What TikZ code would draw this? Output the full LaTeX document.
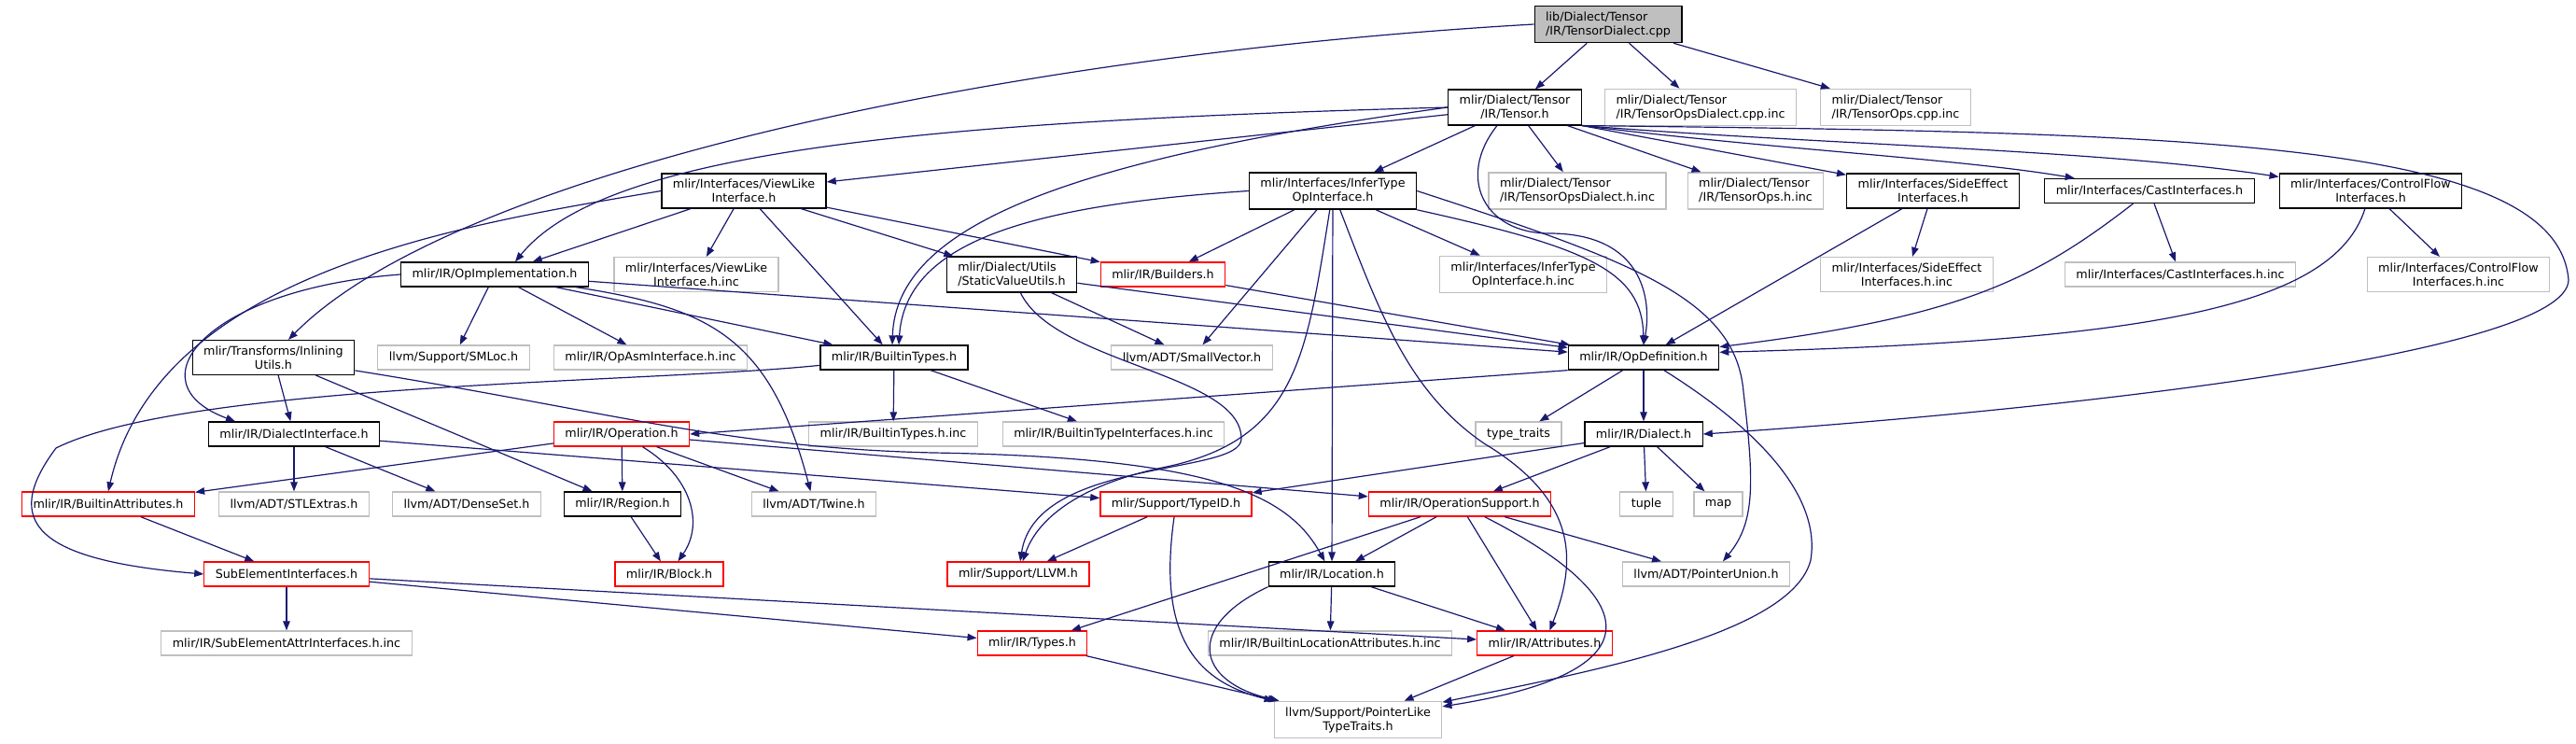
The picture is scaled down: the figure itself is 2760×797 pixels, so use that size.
\documentclass[tikz,border=0pt]{standalone}
\usepackage{fontspec}
\setmainfont{DejaVu Sans}
\usepackage{tikz}
\usetikzlibrary{arrows.meta,calc}
\definecolor{edgeblue}{RGB}{25,25,112}
\definecolor{boxgrey}{RGB}{191,191,191}

\begin{document}
\begin{tikzpicture}[x=1pt,y=-1pt,
    file/.style={draw, rectangle, line width=1.3pt, inner xsep=12pt, inner ysep=6pt,
      minimum height=26pt, align=center, font=\fontsize{12.7}{15}\selectfont},
    hdr/.style={file, draw=black},
    sys/.style={file, draw=boxgrey},
    trunc/.style={file, draw=red},
    root/.style={file, draw=black, fill=boxgrey},
    dep/.style={draw=edgeblue, line width=1.2pt, -{Triangle[length=10pt,width=7.5pt]}}]
  \useasboundingbox (0,0) rectangle (2760,797);

  % row 0 and 1
  \node[root, align=left] (cpp) at (1723,26) {lib/Dialect/Tensor\\/IR/TensorDialect.cpp};
  \node[hdr] (tensor) at (1623,115) {mlir/Dialect/Tensor\\/IR/Tensor.h};
  \node[sys, align=left] (opsdialectcpp) at (1822,115) {mlir/Dialect/Tensor\\/IR/TensorOpsDialect.cpp.inc};
  \node[sys, align=left] (opscpp) at (2031,115) {mlir/Dialect/Tensor\\/IR/TensorOps.cpp.inc};

  % row 2
  \node[hdr] (viewlike) at (797,204.5) {mlir/Interfaces/ViewLike\\Interface.h};
  \node[hdr] (infertype) at (1428,204.5) {mlir/Interfaces/InferType\\OpInterface.h};
  \node[sys, align=left] (opsdialecth) at (1690,204.5) {mlir/Dialect/Tensor\\/IR/TensorOpsDialect.h.inc};
  \node[sys, align=left] (opsh) at (1881,204.5) {mlir/Dialect/Tensor\\/IR/TensorOps.h.inc};
  \node[hdr] (sideeffect) at (2071,204.5) {mlir/Interfaces/SideEffect\\Interfaces.h};
  \node[hdr] (cast) at (2303,204.5) {mlir/Interfaces/CastInterfaces.h};
  \node[hdr] (controlflow) at (2540,204.5) {mlir/Interfaces/ControlFlow\\Interfaces.h};

  % row 3
  \node[hdr] (opimpl) at (530,294) {mlir/IR/OpImplementation.h};
  \node[sys] (viewlikeinc) at (746,294) {mlir/Interfaces/ViewLike\\Interface.h.inc};
  \node[hdr, align=left] (staticvalue) at (1084,294) {mlir/Dialect/Utils\\/StaticValueUtils.h};
  \node[trunc] (builders) at (1246,294) {mlir/IR/Builders.h};
  \node[sys] (infertypeinc) at (1632,294) {mlir/Interfaces/InferType\\OpInterface.h.inc};
  \node[sys] (sideeffectinc) at (2043,294) {mlir/Interfaces/SideEffect\\Interfaces.h.inc};
  \node[sys] (castinc) at (2336,294) {mlir/Interfaces/CastInterfaces.h.inc};
  \node[sys] (controlflowinc) at (2634,294) {mlir/Interfaces/ControlFlow\\Interfaces.h.inc};

  % row 4
  \node[hdr] (inlining) at (293,383) {mlir/Transforms/Inlining\\Utils.h};
  \node[sys] (smloc) at (486,383) {llvm/Support/SMLoc.h};
  \node[sys] (opasm) at (697,383) {mlir/IR/OpAsmInterface.h.inc};
  \node[hdr] (builtintypes) at (958,383) {mlir/IR/BuiltinTypes.h};
  \node[sys] (smallvector) at (1277,383) {llvm/ADT/SmallVector.h};
  \node[hdr] (opdef) at (1761,383) {mlir/IR/OpDefinition.h};

  % row 5
  \node[hdr] (dialectiface) at (315,465) {mlir/IR/DialectInterface.h};
  \node[trunc] (operation) at (666,465) {mlir/IR/Operation.h};
  \node[sys] (builtintypesinc) at (957,465) {mlir/IR/BuiltinTypes.h.inc};
  \node[sys] (builtintypeiface) at (1193,465) {mlir/IR/BuiltinTypeInterfaces.h.inc};
  \node[sys] (typetraits) at (1627,465) {type\_traits};
  \node[hdr] (dialect) at (1761,465) {mlir/IR/Dialect.h};

  % row 6
  \node[trunc] (builtinattrs) at (116,540) {mlir/IR/BuiltinAttributes.h};
  \node[sys] (stlextras) at (315,540) {llvm/ADT/STLExtras.h};
  \node[sys] (denseset) at (500,540) {llvm/ADT/DenseSet.h};
  \node[hdr] (region) at (667,540) {mlir/IR/Region.h};
  \node[sys] (twine) at (872,540) {llvm/ADT/Twine.h};
  \node[trunc] (typeid) at (1260,540) {mlir/Support/TypeID.h};
  \node[trunc] (opsupport) at (1564,540) {mlir/IR/OperationSupport.h};
  \node[sys] (tuple) at (1764,540) {tuple};
  \node[sys] (mapnode) at (1841,540) {map};

  % row 7
  \node[trunc] (subelem) at (307,615) {SubElementInterfaces.h};
  \node[trunc] (block) at (717,615) {mlir/IR/Block.h};
  \node[trunc] (llvm) at (1091,615) {mlir/Support/LLVM.h};
  \node[hdr] (location) at (1427,615) {mlir/IR/Location.h};
  \node[sys] (ptrunion) at (1828,615) {llvm/ADT/PointerUnion.h};

  % row 8 and 9
  \node[sys] (subelemattr) at (307,689) {mlir/IR/SubElementAttrInterfaces.h.inc};
  \node[trunc] (types) at (1106,689) {mlir/IR/Types.h};
  \node[sys] (builtinloc) at (1425,689) {mlir/IR/BuiltinLocationAttributes.h.inc};
  \node[trunc] (attributes) at (1655,689) {mlir/IR/Attributes.h};
  \node[sys] (ptrlike) at (1455,771) {llvm/Support/PointerLike\\TypeTraits.h};

  % TensorDialect.cpp
  \draw[dep] (cpp) -- (tensor);
  \draw[dep] (cpp) -- (opsdialectcpp);
  \draw[dep] (cpp) -- (opscpp);
  \draw[dep] (cpp.west) .. controls (1050,60) and (480,190) .. (inlining.50);

  % Tensor.h
  \draw[dep] (tensor) -- (viewlike);
  \draw[dep] (tensor.west) .. controls (1000,130) and (650,160) .. ([xshift=22pt]opimpl.north);
  \draw[dep] (tensor.west) .. controls (1150,170) and (960,240) .. ([xshift=-2pt]builtintypes.north);
  \draw[dep] (tensor) -- (infertype);
  \draw[dep] ([xshift=-19pt]tensor.south) .. controls (1560,190) and (1590,250) .. (1660,250)
    .. controls (1760,250) and (1770,320) .. (opdef.north);
  \draw[dep] (tensor) -- (opsdialecth);
  \draw[dep] (tensor) -- (opsh);
  \draw[dep] (tensor.south east) -- (sideeffect);
  \draw[dep] (tensor.south east) .. controls (1900,160) and (2100,170) .. (cast);
  \draw[dep] (tensor.south east) .. controls (1950,155) and (2250,160) .. (controlflow);
  \draw[dep] (tensor.south east) .. controls (2350,142) and (2740,150) .. (2752,300)
    .. controls (2750,380) and (2200,440) .. (dialect.east);

  % ViewLikeInterface.h
  \draw[dep] (viewlike) -- (opimpl);
  \draw[dep] (viewlike) -- (viewlikeinc);
  \draw[dep] (viewlike) -- (builtintypes);
  \draw[dep] (viewlike) -- (staticvalue);
  \draw[dep] (viewlike) -- (builders);
  \draw[dep] (viewlike.west) .. controls (500,240) and (170,290) .. (builtinattrs.north);

  % InferTypeOpInterface.h
  \draw[dep] (infertype.west) .. controls (1100,220) and (970,260) .. ([xshift=5pt]builtintypes.north);
  \draw[dep] (infertype) -- (builders);
  \draw[dep] (infertype) -- (smallvector);
  \draw[dep] (infertype) .. controls (1400,380) and (1390,470) .. (1250,500)
    .. controls (1150,520) and (1110,560) .. (llvm);
  \draw[dep] (infertype) -- (location);
  \draw[dep] (infertype) .. controls (1480,340) and (1510,420) .. (1590,475)
    .. controls (1690,535) and (1690,600) .. (attributes);
  \draw[dep] (infertype) -- (infertypeinc);
  \draw[dep] (infertype.south east) .. controls (1700,265) and (1760,290) .. (opdef);
  \draw[dep] (infertype.east) .. controls (1750,280) and (1860,320) .. (1868,420)
    .. controls (1880,520) and (1880,560) .. ([xshift=18pt]ptrunion.north);

  % interfaces on the right
  \draw[dep] (sideeffect) -- (sideeffectinc);
  \draw[dep] (sideeffect) -- (opdef);
  \draw[dep] (cast) -- (castinc);
  \draw[dep] (cast) .. controls (2180,300) and (2100,340) .. (opdef.8);
  \draw[dep] (controlflow) -- (controlflowinc);
  \draw[dep] (controlflow) .. controls (2500,330) and (2300,365) .. (opdef.4);

  % OpImplementation.h
  \draw[dep] (opimpl) -- (smloc);
  \draw[dep] (opimpl) -- (opasm);
  \draw[dep] (opimpl) -- (builtintypes);
  \draw[dep] (opimpl) -- (opdef);
  \draw[dep] (opimpl.west) .. controls (220,310) and (140,410) .. ([xshift=-63pt]dialectiface.north);
  \draw[dep] (opimpl) .. controls (760,330) and (825,360) .. (twine);

  % StaticValueUtils.h, Builders.h
  \draw[dep] (staticvalue) -- (smallvector);
  \draw[dep] (staticvalue) -- (opdef);
  \draw[dep] (staticvalue) .. controls (1130,390) and (1330,400) .. (1330,470)
    .. controls (1330,510) and (1110,490) .. (llvm);
  \draw[dep] (builders) -- (opdef);

  % InliningUtils.h
  \draw[dep] (inlining) -- (dialectiface);
  \draw[dep] (inlining) -- (region);
  \draw[dep] (inlining) .. controls (650,440) and (780,480) .. (1000,485)
    .. controls (1300,490) and (1380,530) .. (location);

  % BuiltinTypes.h
  \draw[dep] (builtintypes) -- (builtintypesinc);
  \draw[dep] (builtintypes) -- (builtintypeiface);
  \draw[dep] (builtintypes) .. controls (700,410) and (200,410) .. (60,480)
    .. controls (0,560) and (40,600) .. (subelem.west);

  % OpDefinition.h
  \draw[dep] (opdef.south west) -- (operation.east);
  \draw[dep] (opdef) -- (typetraits);
  \draw[dep] (opdef) -- (dialect);
  \draw[dep] (opdef) .. controls (1900,470) and (1950,540) .. (1940,600)
    .. controls (1920,680) and (1700,720) .. (ptrlike);

  % Dialect.h
  \draw[dep] (dialect) -- (typeid);
  \draw[dep] (dialect) -- (opsupport);
  \draw[dep] (dialect) -- (tuple);
  \draw[dep] (dialect) -- (mapnode);

  % Operation.h
  \draw[dep] (operation) -- (builtinattrs);
  \draw[dep] (operation) -- (region);
  \draw[dep] (operation) .. controls (740,510) and (755,560) .. (block);
  \draw[dep] (operation) -- (twine);
  \draw[dep] (operation) -- (opsupport);
  \draw[dep] (region) -- (block);
  \draw[dep] (builtinattrs) -- (subelem);

  % DialectInterface.h
  \draw[dep] (dialectiface) -- (stlextras);
  \draw[dep] (dialectiface) -- (denseset);
  \draw[dep] (dialectiface) -- (typeid);

  % SubElementInterfaces.h
  \draw[dep] (subelem) -- (subelemattr);
  \draw[dep] (subelem) -- (attributes);
  \draw[dep] (subelem) -- (types);

  % TypeID.h, Location.h
  \draw[dep] (typeid) -- (llvm);
  \draw[dep] (typeid) .. controls (1240,680) and (1280,730) .. (ptrlike.north west);
  \draw[dep] (location.south west) .. controls (1270,670) and (1280,730) .. ([xshift=6pt]ptrlike.north west);
  \draw[dep] (location) -- (builtinloc);
  \draw[dep] (location) -- (attributes);

  % OperationSupport.h
  \draw[dep] (opsupport) -- (types);
  \draw[dep] (opsupport) -- (location);
  \draw[dep] (opsupport) -- (attributes);
  \draw[dep] (opsupport) -- (ptrunion);
  \draw[dep] (opsupport) .. controls (1760,640) and (1780,720) .. (ptrlike);

  \draw[dep] (types) -- (ptrlike);
  \draw[dep] (attributes) -- (ptrlike);
\end{tikzpicture}
\end{document}
